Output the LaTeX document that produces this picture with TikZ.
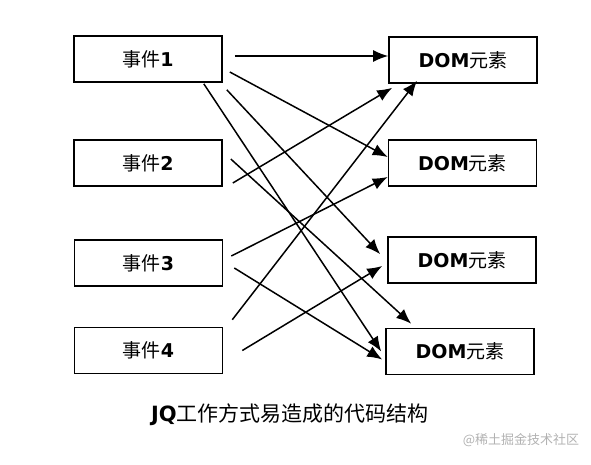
\documentclass[tikz,border=0pt]{standalone}
\usepackage{fontspec}
\setmainfont{DejaVu Sans}
\newfontfamily\cjk{Noto Sans CJK SC}
\usetikzlibrary{arrows.meta}

\tikzset{
  box/.style={draw, line width=1.6pt, minimum width=148pt, minimum height=46pt,
    font=\fontsize{19}{22}\selectfont},
}
\newcommand{\eventlabel}[1]{{\cjk 事件}\textbf{#1}}
\newcommand{\domlabel}{\textbf{DOM}{\cjk 元素}}

\begin{document}
\begin{tikzpicture}[x=1pt,y=-1pt,->,>={Latex[length=15pt,width=12pt]},line width=1.5pt]
      \useasboundingbox (0,0) rectangle (591,464);
      \node[box](e1) at (148,59){\eventlabel{1}};
      \node[box](e2) at (148,163){\eventlabel{2}};
      \node[box](e3) at (148.5,263){\eventlabel{3}};
      \node[box](e4) at (148.5,350.5){\eventlabel{4}};
      \node[box](d1) at (463,60){\domlabel};
      \node[box](d2) at (462.5,163){\domlabel};
      \node[box](d3) at (462,260){\domlabel};
      \node[box](d4) at (460,351.5){\domlabel};
      \draw ([shift={(12,-3)}]e1.east) -- ([shift={(0,-4)}]d1.west);
      \draw ([shift={(7,13)}]e1.east) -- ([shift={(0,-6)}]d2.west);
      \draw ([shift={(4,7)}]e1.south east) -- ([shift={(-7,18)}]d3.north west);
      \draw ([shift={(-19,1)}]e1.south east) -- ([shift={(-4,0)}]d4.west);
      \draw ([shift={(10,20)}]e2.east) -- ([shift={(4,4)}]d1.south west);
      \draw ([shift={(8,-4)}]e2.east) -- ([shift={(26,-4)}]d4.north west);
      \draw ([shift={(8,-7)}]e3.east) -- ([shift={(0,14)}]d2.west);
      \draw ([shift={(11,5)}]e3.east) -- ([shift={(-3,8)}]d4.west);
      \draw ([shift={(9,-7)}]e4.north east) -- ([shift={(-46,-3)}]d1.south);
      \draw ([shift={(19,0)}]e4.east) -- ([shift={(-5,6)}]d3.west);
      \node[font=\fontsize{21}{25}\selectfont](caption) at (290,415)
        {\textbf{JQ}{\cjk 工作方式易造成的代码结构}};
      \node[text=black!30,font=\cjk\fontsize{13}{15}\selectfont](mark) at (521,440)
        {@稀土掘金技术社区};
    \end{tikzpicture}
\end{document}
